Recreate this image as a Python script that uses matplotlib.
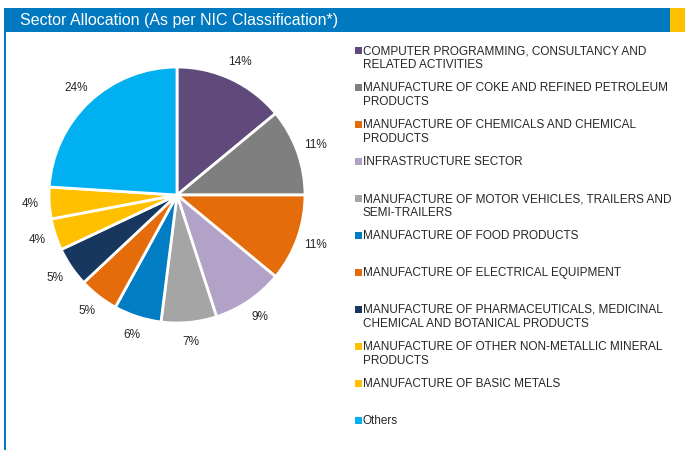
import matplotlib.pyplot as plt
from matplotlib.patches import Rectangle

sectors = [
    "COMPUTER PROGRAMMING, CONSULTANCY AND\nRELATED ACTIVITIES",
    "MANUFACTURE OF COKE AND REFINED PETROLEUM\nPRODUCTS",
    "MANUFACTURE OF CHEMICALS AND CHEMICAL\nPRODUCTS",
    "INFRASTRUCTURE SECTOR",
    "MANUFACTURE OF MOTOR VEHICLES, TRAILERS AND\nSEMI-TRAILERS",
    "MANUFACTURE OF FOOD PRODUCTS",
    "MANUFACTURE OF ELECTRICAL EQUIPMENT",
    "MANUFACTURE OF PHARMACEUTICALS, MEDICINAL\nCHEMICAL AND BOTANICAL PRODUCTS",
    "MANUFACTURE OF OTHER NON-METALLIC MINERAL\nPRODUCTS",
    "MANUFACTURE OF BASIC METALS",
    "Others",
]
weights = [14, 11, 11, 9, 7, 6, 5, 5, 4, 4, 24]
colors = ["#604A7B", "#7F7F7F", "#E46C0A", "#B3A2C7", "#A5A5A5", "#007DC3",
          "#E46C0A", "#17375E", "#FFC000", "#FFC000", "#00B0F0"]

plt.rcParams['font.family'] = ['Liberation Sans', 'DejaVu Sans']

W, H = 685, 450
fig = plt.figure(figsize=(W / 100, H / 100), dpi=100)

# header band, yellow tab and left rule, in pixel coordinates
bg = fig.add_axes([0, 0, 1, 1])
bg.set_xlim(0, W)
bg.set_ylim(H, 0)
bg.axis('off')
bg.add_patch(Rectangle((4, 8), 666, 23.5, color="#0079C1", lw=0))
bg.add_patch(Rectangle((670, 8), 15, 23.5, color="#FFC000", lw=0))
bg.add_patch(Rectangle((4, 31), 2.2, H - 31, color="#0079C1", lw=0))
bg.text(20, 20, "Sector Allocation (As per NIC Classification*)", color="white",
        fontsize=11.5, va='center', ha='left')

# pie centred at (177, 195) px with radius ~128 px
r = 128
ax = fig.add_axes([(177 - r) / W, 1 - (195 + r) / H, 2 * r / W, 2 * r / H])
ax.pie(weights, colors=colors, startangle=90, counterclock=False,
       autopct=lambda p: f"{p:.0f}%", pctdistance=1.15,
       wedgeprops=dict(edgecolor='white', linewidth=2),
       textprops=dict(fontsize=8.5, color="#262626"))
ax.set_xlim(-1, 1)
ax.set_ylim(-1, 1)

# legend column, one entry every 37 px
y0 = 50
for i, (name, c) in enumerate(zip(sectors, colors)):
    y = y0 + 37 * i
    bg.add_patch(Rectangle((355, y - 3.5), 7, 7, color=c, lw=0))
    bg.text(363, y - 5, name, fontsize=8.5, color="#262626", va='top',
            ha='left', linespacing=1.25)

fig.savefig("out.png", dpi=100)
